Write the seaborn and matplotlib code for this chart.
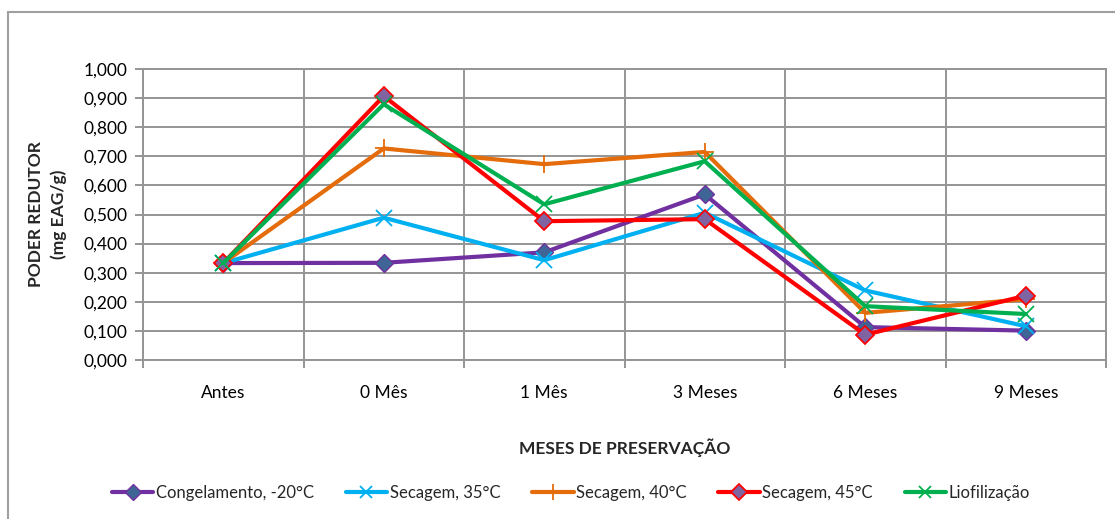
import matplotlib
matplotlib.use("Agg")
import matplotlib.pyplot as plt
from matplotlib.lines import Line2D
from matplotlib.ticker import FixedLocator, FuncFormatter
import pandas as pd
import seaborn as sns

# Reducing power (mg EAG/g) over preservation time, per treatment
meses = ["Antes", "0 Mês", "1 Mês", "3 Meses", "6 Meses", "9 Meses"]
congelamento = [0.333, 0.334, 0.370, 0.569, 0.113, 0.101]
secagem_35 = [0.333, 0.489, 0.343, 0.506, 0.239, 0.116]
secagem_40 = [0.333, 0.727, 0.673, 0.715, 0.162, 0.209]
secagem_45 = [0.333, 0.907, 0.477, 0.484, 0.087, 0.221]
liofilizacao = [0.333, 0.879, 0.535, 0.683, 0.185, 0.158]

series = [
    ("Congelamento, -20°C", congelamento),
    ("Secagem, 35°C", secagem_35),
    ("Secagem, 40°C", secagem_40),
    ("Secagem, 45°C", secagem_45),
    ("Liofilização", liofilizacao),
]

styles = {
    "Congelamento, -20°C": dict(color="#7030A0", marker="D", mfc="#3F6496", mec="#7030A0", ms=9, mew=1.0),
    "Secagem, 35°C": dict(color="#00B0F0", marker="x", mfc="#00B0F0", mec="#00B0F0", ms=11, mew=1.3),
    "Secagem, 40°C": dict(color="#E46C0A", marker="+", mfc="#E46C0A", mec="#E46C0A", ms=13, mew=1.3),
    "Secagem, 45°C": dict(color="#FF0000", marker="D", mfc="#8064A2", mec="#FF0000", ms=9, mew=1.3),
    "Liofilização": dict(color="#00B050", marker="x", mfc="#00B050", mec="#00B050", ms=11, mew=1.3),
}

df = pd.DataFrame(
    [(nome, m, v) for nome, vals in series for m, v in zip(meses, vals)],
    columns=["serie", "mes", "valor"],
)
df["pos"] = df["mes"].map({m: i for i, m in enumerate(meses)})

sns.set_theme(style="white")
plt.rcParams["font.family"] = ["Lato", "DejaVu Sans"]

fig = plt.figure(figsize=(11.15, 5.19), dpi=100)
ax = fig.add_axes([143 / 1115, 1 - 360 / 519, (1106 - 143) / 1115, (360 - 69) / 519])

grid_c = "#959595"
for nome, _ in series:
    st = styles[nome]
    sub = df[df["serie"] == nome]
    sns.lineplot(
        data=sub, x="pos", y="valor", ax=ax, label=nome,
        color=st["color"], linewidth=3.0, marker=st["marker"],
        markerfacecolor=st["mfc"], markeredgecolor=st["mec"],
        markersize=st["ms"], markeredgewidth=st["mew"], zorder=3,
    )

ax.set_xlim(-0.5, len(meses) - 0.5)
ax.set_ylim(0, 1.0)
ax.xaxis.set_major_locator(FixedLocator(range(len(meses))))
ax.set_xticklabels(meses, fontsize=12.5, color="#000000")
ax.xaxis.set_minor_locator(FixedLocator([i - 0.5 for i in range(len(meses) + 1)]))
ax.yaxis.set_major_locator(FixedLocator([i / 10 for i in range(11)]))
ax.yaxis.set_major_formatter(FuncFormatter(lambda v, p: f"{v:.3f}".replace(".", ",")))
ax.tick_params(axis="y", labelsize=12.5, labelcolor="#000000", length=6, width=1.4,
               color=grid_c, left=True, pad=5)
ax.tick_params(axis="x", which="major", length=0, pad=18)
ax.tick_params(axis="x", which="minor", length=6, width=1.4, color=grid_c, bottom=True)

ax.grid(True, axis="y", which="major", color=grid_c, linewidth=1.4)
ax.grid(True, axis="x", which="minor", color=grid_c, linewidth=1.4)
ax.grid(False, axis="x", which="major")
for s in ax.spines.values():
    s.set_color(grid_c)
    s.set_linewidth(1.4)

ax.set_xlabel("MESES DE PRESERVAÇÃO", fontsize=12.5, fontweight="bold", labelpad=27)
ax.set_ylabel("PODER REDUTOR\n(mg EAG/g)", fontsize=12.5, fontweight="bold", labelpad=12,
              linespacing=1.45)

handles, labels = ax.get_legend_handles_labels()
ax.get_legend().remove()
fig.legend(handles, labels, loc="center", bbox_to_anchor=(571 / 1115, 1 - 493 / 519),
           ncol=5, frameon=False, fontsize=12, handlelength=2.5, handletextpad=0.15,
           columnspacing=1.9, markerscale=0.85)

# chart frame
fig.add_artist(Line2D([8 / 1115, 8 / 1115], [0, 1 - 12 / 519], transform=fig.transFigure,
                      color="#A0A0A0", linewidth=1.5))
fig.add_artist(Line2D([8 / 1115, 1], [1 - 12 / 519, 1 - 12 / 519], transform=fig.transFigure,
                      color="#A0A0A0", linewidth=1.5))

fig.savefig("out.png", dpi=100, facecolor="white")
